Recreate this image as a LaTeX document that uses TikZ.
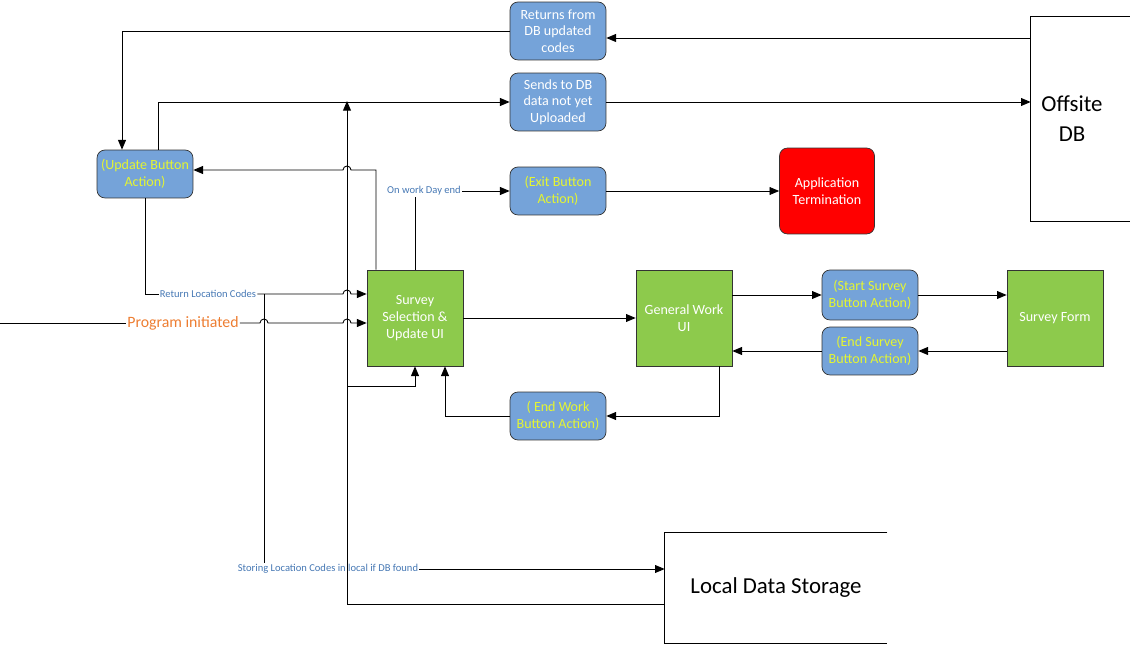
\documentclass[tikz,border=0pt]{standalone}
\usepackage{fontspec}
\setmainfont{Carlito}
\usetikzlibrary{arrows.meta}

\definecolor{btnblue}{RGB}{117,163,217}
\definecolor{uigreen}{RGB}{141,202,76}
\definecolor{btnyellow}{RGB}{228,245,50}
\definecolor{lblblue}{RGB}{70,120,180}
\definecolor{progorange}{RGB}{237,125,49}

\begin{document}
\begin{tikzpicture}[x=0.02cm, y=-0.02cm]
    % Node styles
    \tikzstyle{btn} = [rectangle, rounded corners=0.16cm, draw=black!80, fill=btnblue, minimum width=1.92cm, minimum height=0.96cm, align=center, text=white, inner sep=1pt, font=\fontsize{8}{9.5}\selectfont]
    \tikzstyle{act} = [btn, text=btnyellow]
    \tikzstyle{screen} = [rectangle, draw=black!80, fill=uigreen, minimum width=1.92cm, minimum height=1.92cm, align=center, text=white, inner sep=1pt, font=\fontsize{8}{9.5}\selectfont]
    \tikzstyle{store} = [rectangle, align=center, font=\fontsize{13}{17}\selectfont]
    \tikzstyle{flowlbl} = [inner sep=0.5pt, text=lblblue, font=\fontsize{6}{7}\selectfont]
    \tikzstyle{line} = [line width=0.5pt]
    \tikzstyle{arrow} = [line, -{Triangle[length=5.5pt,width=4.5pt]}]

    \useasboundingbox (0,0) rectangle (1130,645);

    % Nodes
    \node (retdb) at (558,31) [btn, minimum height=1.16cm] {Returns from\\DB updated\\codes};
    \node (senddb) at (558,102) [btn, minimum height=1.16cm] {Sends to DB\\data not yet\\Uploaded};
    \node (updbtn) at (145,174) [act] {(Update Button\\Action)};
    \node (exitbtn) at (558,191) [act] {(Exit Button\\Action)};
    \node (apterm) at (827,191) [btn, fill=red, minimum width=1.9cm, minimum height=1.72cm] {Application\\Termination};
    \node (offdb) at (1072,119) [store, minimum width=1.64cm, minimum height=4.08cm] {Offsite\\DB};
    \node (selui) at (415,318) [screen] {Survey\\Selection \&\\Update UI};
    \node (workui) at (684,318) [screen] {General Work\\UI};
    \node (startbtn) at (870,295) [act, minimum height=1.0cm] {(Start Survey\\Button Action)};
    \node (endsbtn) at (870,351) [act] {(End Survey\\Button Action)};
    \node (sform) at (1055,318) [screen] {Survey Form};
    \node (endwbtn) at (558,416) [act] {( End Work\\Button Action)};
    \node (local) at (776,588) [store, minimum width=4.44cm, minimum height=2.2cm] {Local Data Storage};
    \coordinate (rim) at (1130,0);
    \coordinate (progin) at (0,323);
    \coordinate (split) at (264,294);

    % Open store borders
    \draw[line] (offdb.north west -| rim) -- (offdb.north west) -- (offdb.south west) -- (offdb.south west -| rim);
    \draw[line] (local.north east) -- (local.north west) -- (local.south west) -- (local.south east);

    % Labels
    \node (retlbl) at (208,294) [flowlbl] {Return Location Codes};
    \node (proglbl) at (183,323) [flowlbl, text=progorange, font=\fontsize{9}{11}\selectfont] {Program initiated};
    \node (daylbl) at (424,191) [flowlbl] {On work Day end};
    \node (storelbl) at (328,569) [flowlbl] {Storing Location Codes in local if DB found};

    % Arrows
    \draw[arrow] (offdb.west |- 0,38) -- (retdb.east |- 0,38);
    \draw[arrow] (retdb.west) -| ([xshift=-0.46cm]updbtn.north);
    \draw[arrow] ([xshift=0.26cm]updbtn.north) |- (senddb.west);
    \draw[arrow] (senddb.east) -- (senddb.east -| offdb.west);
    \draw[arrow] (local.west |- 0,604) -| (347,101);
    \draw[arrow] (347,386) -| (selui.south);
    \draw[arrow] ([xshift=-0.78cm]selui.north) |- (351,170) arc[start angle=0, end angle=180, radius=0.08cm] -- (updbtn.east |- 0,170);
    \draw[line] (selui.north) -- (selui.north |- daylbl.south);
    \draw[arrow] (daylbl.east) -- (exitbtn.west);
    \draw[arrow] (exitbtn.east) -- (apterm.west);
    \draw[line] (updbtn.south) |- (retlbl.west);
    \draw[arrow] (retlbl.east) -- (343,294) arc[start angle=180, end angle=0, radius=0.08cm] -- (selui.west |- retlbl.east);
    \draw[line] (progin) -- (proglbl.west);
    \draw[arrow] (proglbl.east) -- (260,323) arc[start angle=180, end angle=0, radius=0.08cm] -- (343,323) arc[start angle=180, end angle=0, radius=0.08cm] -- (selui.west |- proglbl.east);
    \draw[line] (split) -- (split |- storelbl.north);
    \draw[arrow] (storelbl.east) -- (storelbl.east -| local.west);
    \draw[arrow] (selui.east) -- (workui.west);
    \draw[arrow] (workui.east |- startbtn.west) -- (startbtn.west);
    \draw[arrow] (startbtn.east) -- (startbtn.east -| sform.west);
    \draw[arrow] (sform.west |- endsbtn.east) -- (endsbtn.east);
    \draw[arrow] (endsbtn.west) -- (endsbtn.west -| workui.east);
    \draw[arrow] ([xshift=0.7cm]workui.south) |- (endwbtn.east);
    \draw[arrow] (endwbtn.west) -| ([xshift=0.6cm]selui.south);

\end{tikzpicture}
\end{document}
